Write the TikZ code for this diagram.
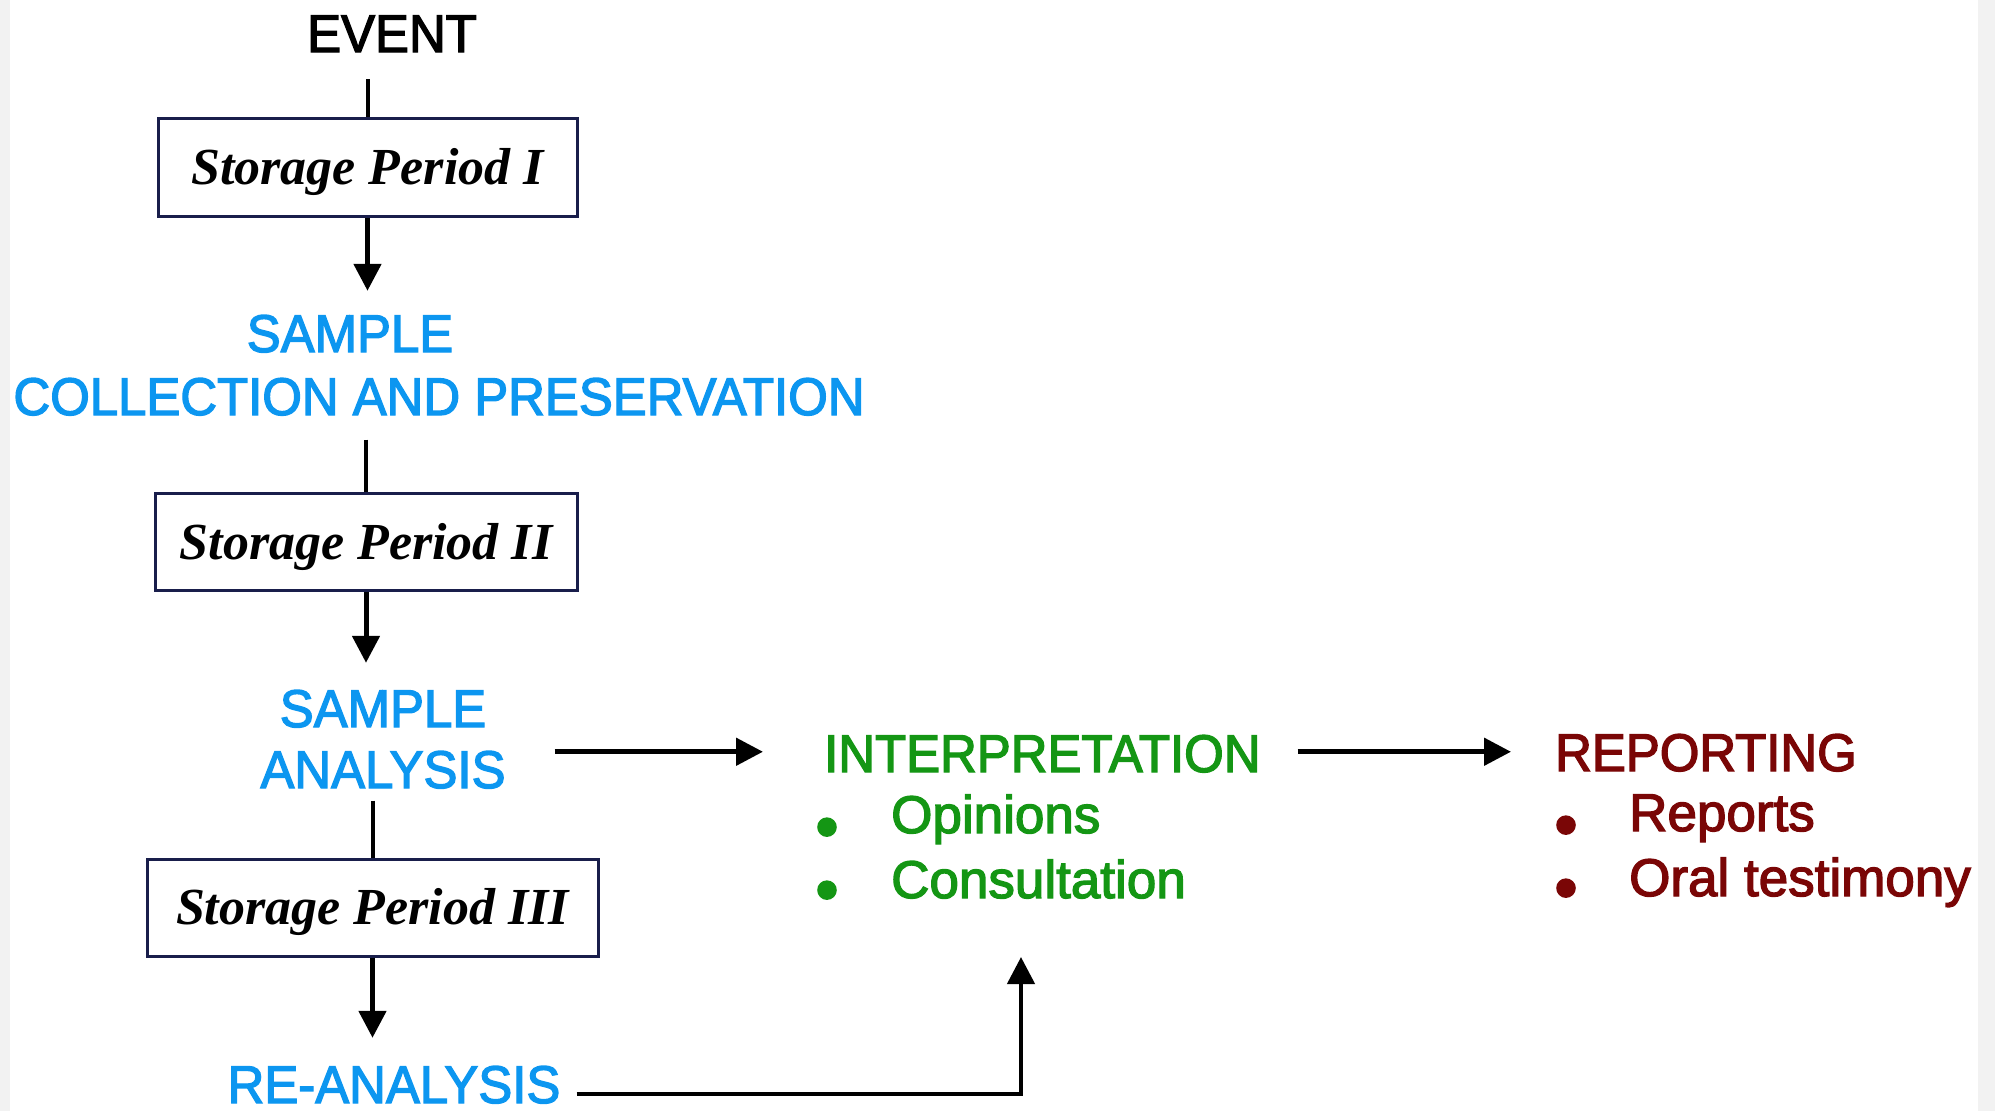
\documentclass[tikz,border=0pt]{standalone}
\usepackage{fontspec}
\usetikzlibrary{arrows.meta,calc}
\setmainfont{Liberation Serif}
\newfontfamily\capsf[FakeStretch=0.96,FakeBold=2.5]{Liberation Sans}
\newfontfamily\plainsf[FakeBold=2.5]{Liberation Sans}
\definecolor{skyb}{RGB}{12,150,240}
\definecolor{grn}{RGB}{20,150,20}
\definecolor{dred}{RGB}{122,6,6}
\definecolor{navy}{RGB}{25,30,75}
\definecolor{sidegray}{RGB}{242,242,242}
\tikzset{
  lbl/.style={inner sep=0pt, anchor=base, font=\capsf\fontsize{53}{61}\selectfont},
  item/.style={inner sep=0pt, anchor=base west, font=\plainsf\fontsize{53}{61}\selectfont},
  bul/.style={inner sep=0pt, anchor=base, font=\plainsf\fontsize{66}{61}\selectfont},
  stbox/.style={draw=navy, line width=3pt, inner sep=0pt, text height=40pt, text depth=6pt,
    font=\bfseries\itshape\fontsize{52}{60}\selectfont},
  conn/.style={line width=4pt},
  arr/.style={line width=5pt, -{Triangle[length=27pt,width=27pt]}},
}
\begin{document}
\begin{tikzpicture}[x=1pt,y=-1pt]
\useasboundingbox (0,0) rectangle (1995,1111);
\fill[sidegray] (0,0) rectangle (10,1111);
\fill[sidegray] (1978,0) rectangle (1995,1111);

% left column
\node[lbl] (event) at (392,52) {EVENT};
\node[stbox, minimum width=419pt, minimum height=98pt] (box1) at (367.5,167.5) {Storage Period I};
\node[lbl, text=skyb] (samp1) at (350,352) {SAMPLE};
\node[lbl, text=skyb] (coll) at (439,415) {COLLECTION AND PRESERVATION};
\node[stbox, minimum width=422pt, minimum height=97pt] (box2) at (366,542) {Storage Period II};
\node[lbl, text=skyb] (samp2) at (383,727) {SAMPLE};
\node[lbl, text=skyb] (anal) at (383,788) {ANALYSIS};
\node[stbox, minimum width=451pt, minimum height=97pt] (box3) at (372.5,907.5) {Storage Period III};
\node[lbl, text=skyb] (reanal) at (394,1103) {RE-ANALYSIS};

% interpretation
\node[lbl, anchor=base west, text=grn] (interp) at (824,772) {INTERPRETATION};
\node[bul, text=grn] (b1) at (827,849) {\textbullet};
\node[item, text=grn] (opin) at (891,833) {Opinions};
\node[bul, text=grn] (b2) at (827,912) {\textbullet};
\node[item, text=grn] (cons) at (891,898) {Consultation};

% reporting
\node[lbl, anchor=base west, text=dred] (report) at (1555,771) {REPORTING};
\node[bul, text=dred] (b3) at (1566,847) {\textbullet};
\node[item, text=dred] (reps) at (1629,831) {Reports};
\node[bul, text=dred] (b4) at (1566,910) {\textbullet};
\node[item, text=dred] (oral) at (1629,896) {Oral testimony};

\coordinate (upc) at (1021,957);

% connectors
\draw[conn, shorten <=27pt] (box1.north |- event.south) -- (box1.north);
\draw[arr, shorten >=24pt] (box1.south) -- (box1.south |- samp1.north);
\draw[conn, shorten <=24pt] (box2.north |- coll.south) -- (box2.north);
\draw[arr, shorten >=27pt] (box2.south) -- (box2.south |- samp2.north);
\draw[conn, shorten <=12pt] (box3.north |- anal.south) -- (box3.north);
\draw[arr, shorten >=28pt] (box3.south) -- (box3.south |- reanal.north);
\draw[arr, shorten <=49pt, shorten >=61pt] ($(anal.east |- interp.west)+(0,-2)$) -- ($(interp.west)+(0,-2)$);
\draw[arr, shorten <=37pt, shorten >=44pt] ($(interp.east)+(0,-2)$) -- ($(interp.east -| report.west)+(0,-2)$);
\draw[arr, line width=4.5pt, shorten <=16pt] ($(reanal.east)+(0,9)$) -| (upc);
\end{tikzpicture}
\end{document}
